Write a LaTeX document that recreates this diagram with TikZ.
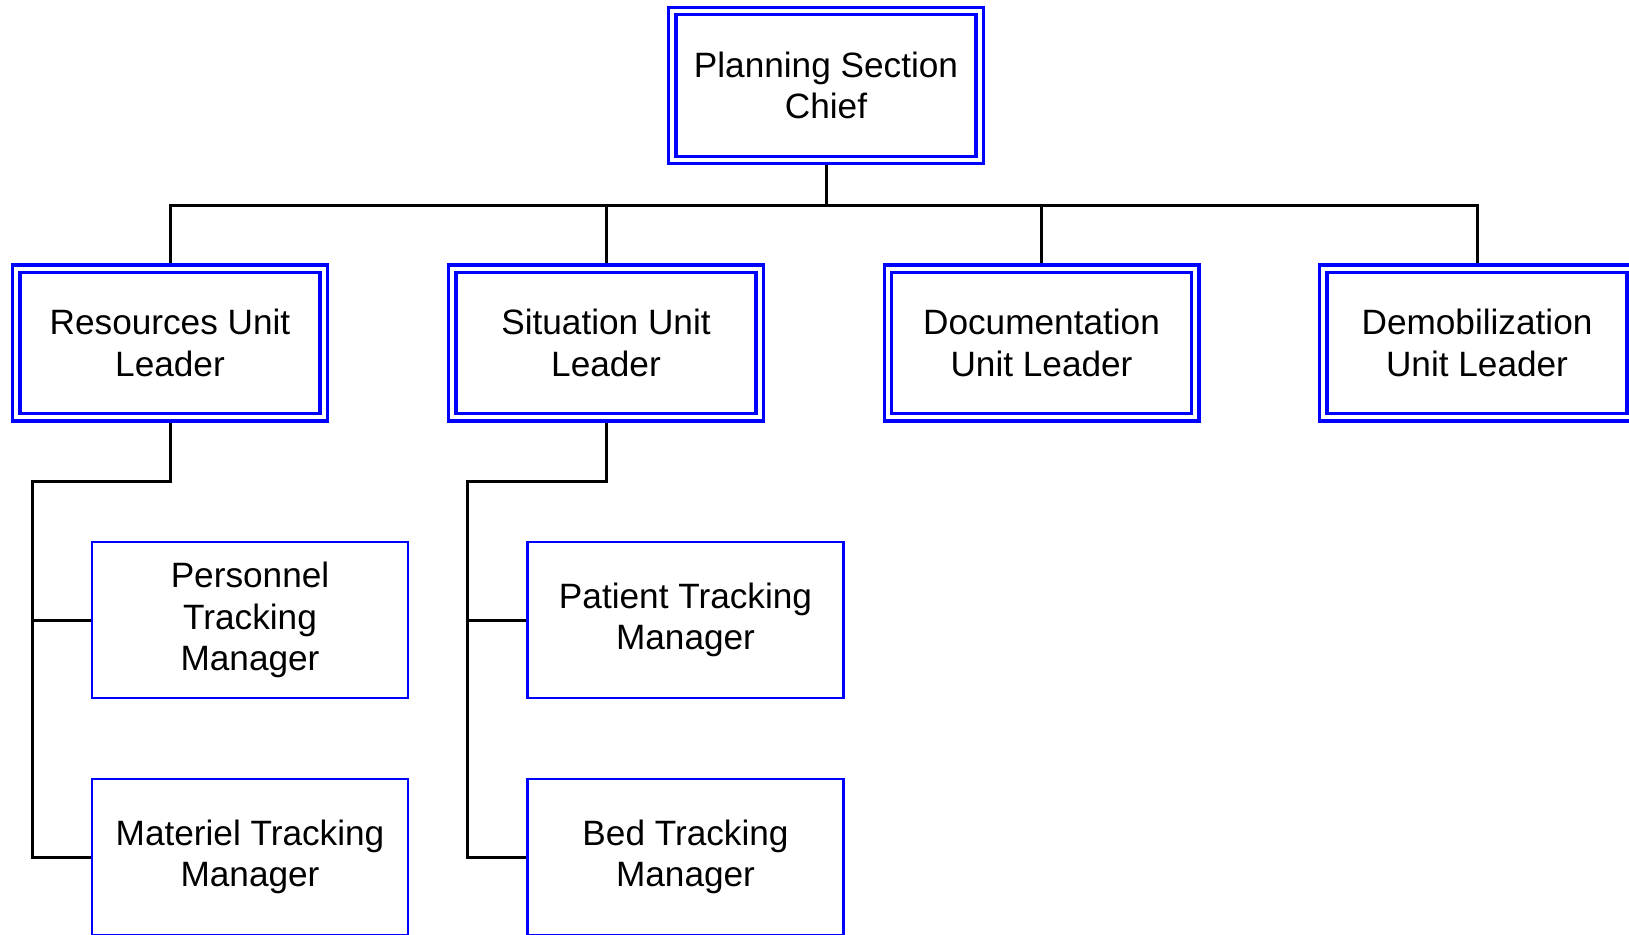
\documentclass[tikz,border=0pt]{standalone}
\usepackage{fontspec}
\setmainfont{Liberation Sans}
\usetikzlibrary{backgrounds}
\tikzset{
  boxtext/.style={align=center, font=\fontsize{35.2}{41.5}\selectfont, inner sep=0pt, outer sep=0pt, fill=white},
  dbox/.style={boxtext, draw=blue, double=white, double distance=4.2pt, line width=3.2pt,
    minimum width=307.4pt, minimum height=148.7pt},
  sbox/.style={boxtext, draw=blue, line width=2.6pt, minimum width=316pt, minimum height=156pt},
  conn/.style={draw=black, line width=3pt}
}
\begin{document}
\begin{tikzpicture}[x=1pt,y=-1pt]
\useasboundingbox (0,0) rectangle (1629,934);
\clip (0,0) rectangle (1629,934);
\node[dbox] (top) at (826,85.5) {Planning Section\\Chief};
\node[dbox] (res) at (170,343) {Resources Unit\\Leader};
\node[dbox] (sit) at (606,343) {Situation Unit\\Leader};
\node[dbox] (doc) at (1041.5,343) {Documentation\\Unit Leader};
\node[dbox] (dem) at (1477,343) {Demobilization\\Unit Leader};
\node[sbox] (per) at (250,620) {Personnel\\Tracking\\Manager};
\node[sbox] (mat) at (250,857) {Materiel Tracking\\Manager};
\node[sbox] (pat) at (685.5,620) {Patient Tracking\\Manager};
\node[sbox] (bed) at (685.5,857) {Bed Tracking\\Manager};
\coordinate (bar) at (0,205);
\coordinate (rb) at (32,481);
\coordinate (sb) at (467.5,481);
\begin{pgfonlayer}{background}
\fill[white] (0,0) rectangle (1629,934);
\draw[conn] (top.south) -- (top.south |- bar);
\draw[conn] (res.north) -- (res.north |- bar) -| (dem.north);
\draw[conn] (sit.north) -- (sit.north |- bar);
\draw[conn] (doc.north) -- (doc.north |- bar);
\draw[conn] (res.south) |- (rb) -- (rb |- mat.west) -- (mat.west);
\draw[conn] (rb |- per.west) -- (per.west);
\draw[conn] (sit.south) |- (sb) -- (sb |- bed.west) -- (bed.west);
\draw[conn] (sb |- pat.west) -- (pat.west);
\end{pgfonlayer}
\end{tikzpicture}
\end{document}
